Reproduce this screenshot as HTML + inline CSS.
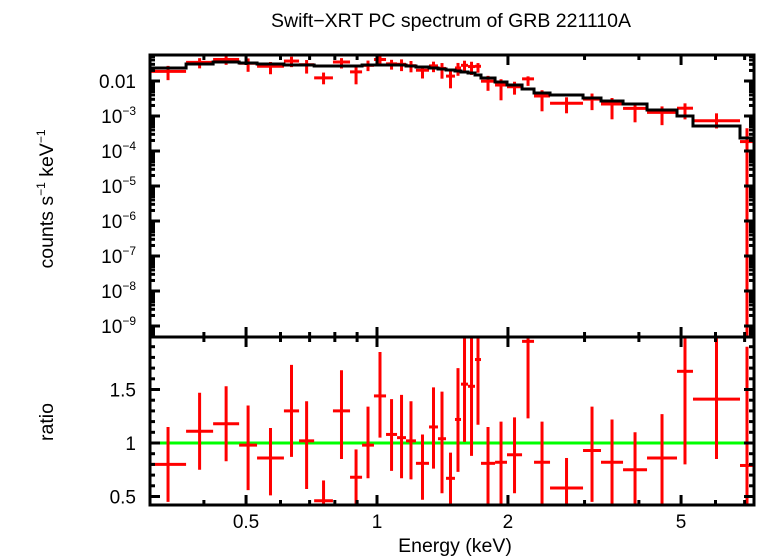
<!DOCTYPE html>
<html><head><meta charset="utf-8"><style>
body{margin:0;background:#fff;}
svg{display:block;font-family:"Liberation Sans",sans-serif;}
</style></head><body>
<svg id="chart" width="758" height="556" viewBox="0 0 758 556">
<text x="451" y="27" font-size="19.5" text-anchor="middle">Swift−XRT PC spectrum of GRB 221110A</text>
<text transform="translate(53,199) rotate(-90)" font-size="19.5" text-anchor="middle">counts s<tspan dy="-8" font-size="12">−1</tspan><tspan dy="8"> keV</tspan><tspan dy="-8" font-size="12">−1</tspan></text>
<text transform="translate(53,422) rotate(-90)" font-size="19.5" text-anchor="middle">ratio</text>
<text x="455" y="552" font-size="19.5" text-anchor="middle">Energy (keV)</text>
<g id="g"></g>
</svg>
<script>
// Bin edges (keV)
const binEdges=[0.3007,0.364,0.420,0.482,0.530,0.611,0.662,0.717,0.792,0.867,0.924,0.984,1.049,1.112,1.166,1.229,1.317,1.381,1.441,1.511,1.560,1.619,1.680,1.734,1.868,1.990,2.155,2.296,2.499,2.976,3.273,3.678,4.176,4.894,5.326,6.831,7.356];
// Model (counts/s/keV) per bin
const modelVals=[0.0235,0.0306,0.0349,0.0327,0.0306,0.0286,0.0286,0.0268,0.0268,0.0268,0.0286,0.0286,0.0286,0.0286,0.0268,0.0251,0.0235,0.0220,0.0206,0.0193,0.0181,0.0169,0.0148,0.0122,0.00936,0.00769,0.00590,0.00454,0.00398,0.00327,0.00268,0.00220,0.00148,0.00100,0.000518,0.000235];
// Ratio data/model and error bounds
const ratioVals=[0.80,1.11,1.18,0.98,0.86,1.30,1.02,0.46,1.30,0.68,0.98,1.44,1.08,1.05,1.02,0.81,1.15,1.04,0.67,1.22,1.55,1.53,1.78,0.81,0.82,0.89,1.95,0.82,0.58,0.93,0.82,0.75,0.86,1.67,1.41,0.79];
const ratioLo=[0.45,0.75,0.83,0.56,0.51,0.87,0.57,0.30,0.85,0.30,0.67,1.05,0.74,0.67,0.66,0.47,0.76,0.53,0.30,0.73,1.01,0.88,1.17,0.43,0.30,0.53,1.23,0.30,0.30,0.45,0.30,0.30,0.37,0.80,0.85,0.0];
const ratioHi=[1.15,1.47,1.53,1.35,1.14,1.73,1.39,0.65,1.68,0.94,1.34,1.85,1.41,1.45,1.39,1.08,1.52,1.48,0.91,1.70,2.1,2.1,2.2,1.15,1.20,1.24,2.3,1.20,0.86,1.34,1.22,1.10,1.27,2.3,2.3,1.9];
const xMajor=[0.5,1,2,5];
const xMinor=[0.4,0.6,0.7,0.8,0.9,3,4,6,7];
const yMajorExp=[-2,-3,-4,-5,-6,-7,-8,-9];
const rMajor=[0.5,1,1.5];

const X0=150,X1=754,T0=55,T1=337,B1=505;
const NS="http://www.w3.org/2000/svg";
const g=document.getElementById('g');
const xs=e=>377+435*Math.log10(e);
const ys=v=>81-35*(Math.log10(v)+2);
const rs=r=>443-107*(r-1);
const clampT=y=>Math.max(T0,Math.min(T1,y));
const clampB=y=>Math.max(T1,Math.min(B1,y));
function el(t,a,name){const e=document.createElementNS(NS,t);for(const k in a)e.setAttribute(k,a[k]);


g.appendChild(e);return e;}
function line(x1,y1,x2,y2,c,w,name){return el('line',{x1,y1,x2,y2,stroke:c,'stroke-width':w},name);}

line(X0,rs(1),X1,rs(1),'#00ff00',3,'unity-line');

for(let i=0;i<ratioVals.length;i++){
 const xa=xs(binEdges[i]),xb=xs(binEdges[i+1]),xc=(xa+xb)/2;
 const m=modelVals[i];
 const d=m*ratioVals[i],dl=m*ratioLo[i],dh=m*ratioHi[i];
 line(xa,clampT(ys(d)),xb,clampT(ys(d)),'#ff0000',3,'data-point-xerr');
 line(xc,clampT(dl>0?ys(dl):T1),xc,clampT(ys(dh)),'#ff0000',3,'data-point-yerr');
 const ry=rs(ratioVals[i]);
 if(ry>=T1&&ry<=B1) line(xa,ry,xb,ry,'#ff0000',3,'ratio-point-xerr');
 line(xc,clampB(rs(ratioLo[i])),xc,clampB(rs(ratioHi[i])),'#ff0000',3,'ratio-point-yerr');
}
let p='';
for(let i=0;i<modelVals.length;i++){
 const xa=xs(binEdges[i]),xb=xs(binEdges[i+1]),y=ys(modelVals[i]);
 p+=(i==0?'M':'L')+xa+' '+y+' L'+xb+' '+y+' ';
}
p+='L'+xs(binEdges[binEdges.length-1])+' '+ys(modelVals[modelVals.length-1]);
el('path',{d:p,fill:'none',stroke:'#000','stroke-width':3},'model-line');

el('rect',{x:X0,y:T0,width:X1-X0,height:T1-T0,fill:'none',stroke:'#000','stroke-width':3},'top-panel-frame');
el('rect',{x:X0,y:T1,width:X1-X0,height:B1-T1,fill:'none',stroke:'#000','stroke-width':3},'bottom-panel-frame');

function xt(e,len){const x=xs(e);
 [[T0,1],[T1,-1],[T1,1],[B1,-1]].forEach(([y,s])=>line(x,y,x,y+s*len,'#000',3,'x-tick'));}
xMajor.forEach(e=>{xt(e,10);
 const t=el('text',{x:xs(e),y:528,'font-size':19,'text-anchor':'middle'},'x-tick-label');t.textContent=String(e);});
xMinor.forEach(e=>xt(e,5));

for(let k=-10;k<=-1;k++){
 for(let m=1;m<10;m++){const v=m*Math.pow(10,k);const y=ys(v);if(y<T0||y>T1)continue;
  const len=m==1?10:5;line(X0,y,X0+len,y,'#000',3,'y-tick');line(X1,y,X1-len,y,'#000',3,'y-tick');}
}
yMajorExp.forEach(k=>{const y=ys(Math.pow(10,k));
 const t=el('text',{x:136,y:y+7,'font-size':19,'text-anchor':'end'},'y-tick-label');
 if(k==-2)t.textContent='0.01';else t.innerHTML='10<tspan dy="-8" font-size="12">−'+(-k)+'</tspan>';});

for(let r=0.5;r<=1.95;r+=0.1){const y=rs(r);const maj=rMajor.some(v=>Math.abs(v-r)<1e-6);
 const len=maj?10:5;line(X0,y,X0+len,y,'#000',3,'ratio-tick');line(X1,y,X1-len,y,'#000',3,'ratio-tick');}
rMajor.forEach(r=>{const t=el('text',{x:136,y:rs(r)+7,'font-size':19,'text-anchor':'end'},'ratio-tick-label');t.textContent=String(r);});
</script>
</body></html>
